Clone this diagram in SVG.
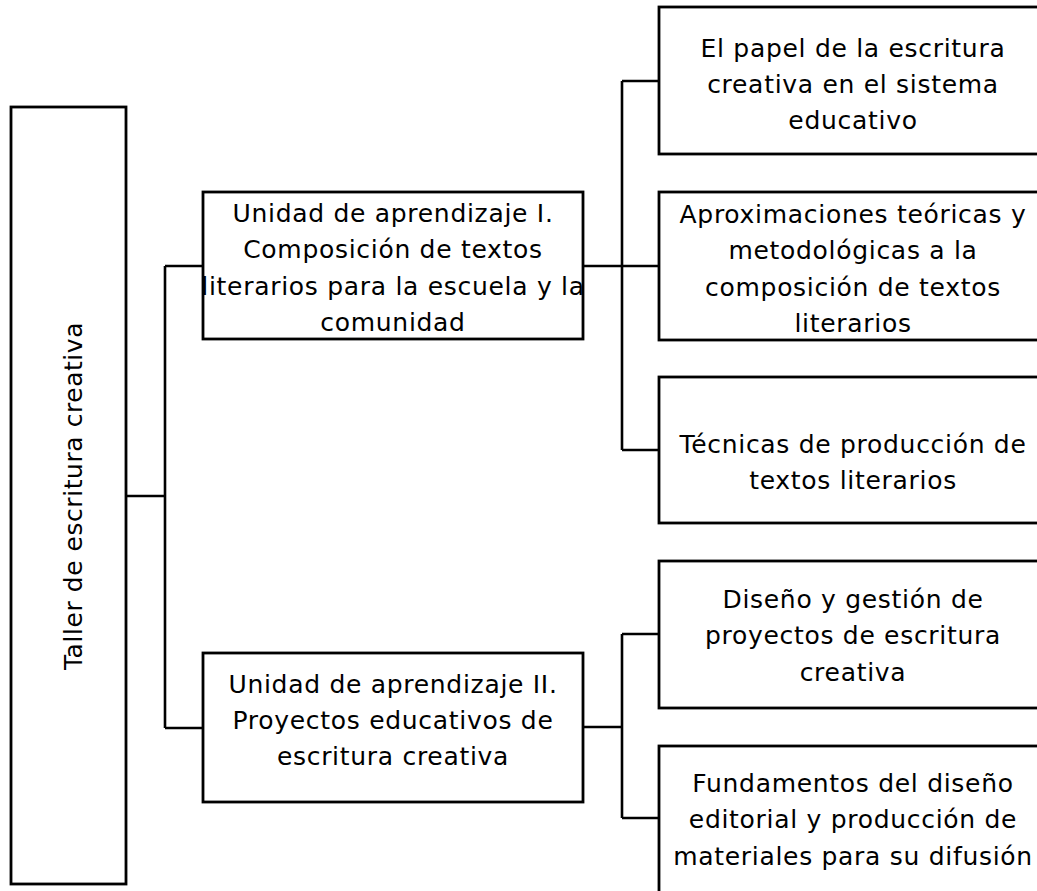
<svg xmlns="http://www.w3.org/2000/svg" width="1037" height="891" viewBox="0 0 1037 891">
<style>
.box{fill:#fff;stroke:#000;stroke-width:2.8}
.con{fill:none;stroke:#000;stroke-width:2.6}
.t{font-family:"DejaVu Sans","Liberation Sans",sans-serif;font-size:25px;fill:#000;text-anchor:middle;letter-spacing:0.7px}
</style>
<rect width="1037" height="891" fill="#fff"/>
<g id="connectors">
<path class="con" d="M126 496H165M165 266V728M165 266H203M165 728H203"/>
<path class="con" d="M583 266H660M622 81V450M622 81H660M622 450H660"/>
<path class="con" d="M583 727H622M622 634V818M622 634H660M622 818H660"/>
</g>
<g id="root">
<rect class="box" x="11" y="107" width="115" height="777"/>
<text class="t" style="letter-spacing:0.55px" transform="translate(82 496) rotate(-90)" x="0" y="0">Taller de escritura creativa</text>
</g>
<g id="unit1">
<rect class="box" x="203" y="192" width="380" height="147"/>
<text class="t" x="393" y="222">Unidad de aprendizaje I.</text>
<text class="t" x="393" y="258">Composición de textos</text>
<text class="t" x="393" y="295">literarios para la escuela y la</text>
<text class="t" x="393" y="331">comunidad</text>
</g>
<g id="unit2">
<rect class="box" x="203" y="653" width="380" height="149"/>
<text class="t" x="393" y="693">Unidad de aprendizaje II.</text>
<text class="t" x="393" y="729">Proyectos educativos de</text>
<text class="t" x="393" y="765">escritura creativa</text>
</g>
<g id="topic1">
<rect class="box" x="659" y="7" width="400" height="147"/>
<text class="t" x="853" y="57">El papel de la escritura</text>
<text class="t" x="853" y="93">creativa en el sistema</text>
<text class="t" x="853" y="129">educativo</text>
</g>
<g id="topic2">
<rect class="box" x="659" y="192" width="400" height="148"/>
<text class="t" x="853" y="223">Aproximaciones teóricas y</text>
<text class="t" x="853" y="259">metodológicas a la</text>
<text class="t" x="853" y="296">composición de textos</text>
<text class="t" x="853" y="332">literarios</text>
</g>
<g id="topic3">
<rect class="box" x="659" y="377" width="400" height="146"/>
<text class="t" x="853" y="453">Técnicas de producción de</text>
<text class="t" x="853" y="489">textos literarios</text>
</g>
<g id="topic4">
<rect class="box" x="659" y="561" width="400" height="147"/>
<text class="t" x="853" y="608">Diseño y gestión de</text>
<text class="t" x="853" y="644">proyectos de escritura</text>
<text class="t" x="853" y="681">creativa</text>
</g>
<g id="topic5">
<rect class="box" x="659" y="746" width="400" height="160"/>
<text class="t" x="853" y="792">Fundamentos del diseño</text>
<text class="t" x="853" y="828">editorial y producción de</text>
<text class="t" x="853" y="865">materiales para su difusión</text>
</g>
</svg>
